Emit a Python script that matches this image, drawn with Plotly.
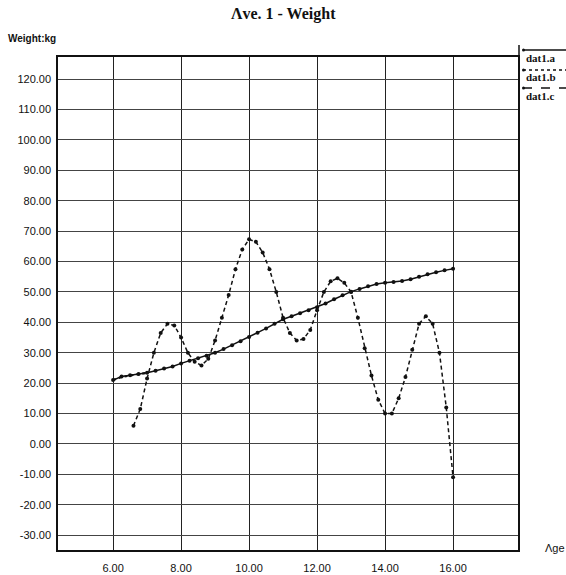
import plotly.graph_objects as go

# ---- data ----
age_a = [6.0, 6.25, 6.5, 6.75, 7.0, 7.25, 7.5, 7.75, 8.0, 8.25, 8.5, 8.75, 9.0, 9.25, 9.5, 9.75,
         10.0, 10.25, 10.5, 10.75, 11.0, 11.25, 11.5, 11.75, 12.0, 12.25, 12.5, 12.75, 13.0,
         13.25, 13.5, 13.75, 14.0, 14.25, 14.5, 14.75, 15.0, 15.25, 15.5, 15.75, 16.0]
weight_a = [21.0, 22.2, 22.6, 23.0, 23.4, 24.1, 24.8, 25.5, 26.5, 27.4, 28.2, 29.0, 30.0, 31.2,
            32.5, 33.8, 35.2, 36.6, 38.0, 39.5, 41.0, 42.0, 43.0, 44.0, 45.0, 46.2, 47.6, 48.9,
            50.1, 51.0, 51.9, 52.6, 53.0, 53.3, 53.6, 54.2, 55.0, 55.8, 56.5, 57.1, 57.6]

age_b = [6.0, 6.25, 6.5, 6.75, 7.0]
weight_b = [21.0, 22.0, 22.5, 23.0, 23.4]

age_c = [6.6, 6.8, 7.0, 7.2, 7.4, 7.6, 7.8, 8.0, 8.2, 8.4, 8.6, 8.8, 9.0, 9.2, 9.4, 9.6, 9.8,
         10.0, 10.2, 10.4, 10.6, 10.8, 11.0, 11.2, 11.4, 11.6, 11.8, 12.0, 12.2, 12.4, 12.6,
         12.8, 13.0, 13.2, 13.4, 13.6, 13.8, 14.0, 14.2, 14.4, 14.6, 14.8, 15.0, 15.2, 15.4,
         15.6, 15.8, 16.0]
weight_c = [6.0, 11.5, 21.5, 30.0, 36.5, 39.5, 39.0, 35.0, 30.0, 27.0, 25.8, 28.0, 34.0, 41.5,
            49.0, 57.5, 64.0, 67.3, 66.5, 63.0, 57.5, 50.0, 41.5, 36.5, 34.0, 34.5, 37.5, 44.0,
            50.0, 53.5, 54.5, 53.0, 50.0, 41.5, 31.5, 22.5, 14.5, 10.0, 10.0, 15.0, 22.0, 31.0,
            39.5, 42.0, 39.5, 30.0, 12.0, -11.0]

x_ticks = [6, 8, 10, 12, 14, 16]
x_tick_labels = ["6.00", "8.00", "10.00", "12.00", "14.00", "16.00"]
y_ticks = [-30, -20, -10, 0, 10, 20, 30, 40, 50, 60, 70, 80, 90, 100, 110, 120]
y_tick_labels = ["%.2f" % v for v in y_ticks]

series_names = ["dat1.a", "dat1.b", "dat1.c"]

fig = go.Figure()
fig.add_trace(go.Scatter(x=age_a, y=weight_a, mode="lines+markers", name=series_names[0],
                         line=dict(color="#111111", width=1.5),
                         marker=dict(size=4, color="#111111"), showlegend=False))
fig.add_trace(go.Scatter(x=age_b, y=weight_b, mode="lines", name=series_names[1],
                         line=dict(color="#111111", width=2.2, dash="dot"), showlegend=False))
fig.add_trace(go.Scatter(x=age_c, y=weight_c, mode="lines+markers", name=series_names[2],
                         line=dict(color="#111111", width=1.5, dash="4px,3px"),
                         marker=dict(size=4, color="#111111"), showlegend=False))

axis_font = dict(family="Liberation Sans, Arial, sans-serif", size=11, color="#111111")

fig.update_layout(
    width=566, height=575,
    margin=dict(l=58, r=48, t=57, b=25),
    paper_bgcolor="white", plot_bgcolor="white",
    xaxis=dict(range=[4.38, 17.91], tickvals=x_ticks, ticktext=x_tick_labels,
               showgrid=True, gridcolor="#222222", gridwidth=1.4,
               showline=True, linecolor="#111111", linewidth=1.5, mirror=True,
               zeroline=False, ticks="", ticklabelstandoff=7, tickfont=axis_font,
               automargin=False),
    yaxis=dict(range=[-34.9, 127.3], tickvals=y_ticks, ticktext=y_tick_labels,
               showgrid=True, gridcolor="#444444", gridwidth=1.3,
               showline=True, linecolor="#111111", linewidth=1.5, mirror=True,
               zeroline=False, ticks="", ticklabelstandoff=3, tickfont=axis_font,
               automargin=False),
)

def px_x(p):
    return (p - 58) / 460.0

def px_y(p):
    return (550 - p) / 493.0

annotations = [
    dict(text="<b>Λve. 1 - Weight</b>", x=px_x(283), y=px_y(14), xref="paper", yref="paper",
         showarrow=False, xanchor="center", yanchor="middle",
         font=dict(family="Liberation Serif, Times New Roman, serif", size=16, color="#111111")),
    dict(text="<b>Weight:kg</b>", x=px_x(6), y=px_y(38), xref="paper", yref="paper",
         showarrow=False, xanchor="left", yanchor="middle",
         font=dict(family="Liberation Sans, Arial, sans-serif", size=10, color="#111111")),
    dict(text="Λge", x=px_x(555), y=px_y(548), xref="paper", yref="paper",
         showarrow=False, xanchor="center", yanchor="middle",
         font=dict(family="Liberation Sans, Arial, sans-serif", size=11, color="#111111")),
]

# legend drawn at the right, line sample above each name
legend_rows = [(50, 58, "solid"), (70, 77, "dot"), (88, 96, "dash")]
shapes = [dict(type="line", xref="paper", yref="paper", x0=px_x(519), x1=px_x(519),
               y0=px_y(57), y1=px_y(45), line=dict(color="#111111", width=1.5))]
for name, (ly, ty, dash) in zip(series_names, legend_rows):
    shapes.append(dict(type="line", xref="paper", yref="paper", x0=px_x(523), x1=px_x(566),
                       y0=px_y(ly), y1=px_y(ly),
                       line=dict(color="#111111", width=1.3, dash=dash)))
    shapes.append(dict(type="circle", xref="paper", yref="paper",
                       x0=px_x(522), x1=px_x(525), y0=px_y(ly + 1.5), y1=px_y(ly - 1.5),
                       fillcolor="#111111", line=dict(color="#111111", width=0)))
    annotations.append(dict(text="<b>" + name + "</b>", x=px_x(524), y=px_y(ty),
                            xref="paper", yref="paper", showarrow=False,
                            xanchor="left", yanchor="middle",
                            font=dict(family="Liberation Serif, Times New Roman, serif",
                                      size=11, color="#111111")))

fig.update_layout(annotations=annotations, shapes=shapes)

fig.write_html("out.html", config={"displayModeBar": False},
               post_script="document.body.style.margin='0';document.body.style.overflow='hidden';")
